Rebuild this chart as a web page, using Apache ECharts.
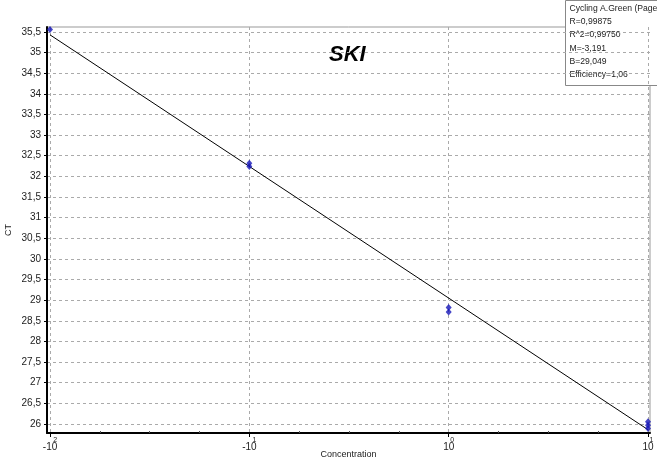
<!DOCTYPE html>
<html><head><meta charset="utf-8">
<script src="https://cdn.jsdelivr.net/npm/echarts@6/dist/echarts.min.js"></script>
<style>html,body{margin:0;padding:0;background:#fff}#c{width:657px;height:460px}</style>
</head><body><div id="c"></div>
<script>
// log10(concentration) and CT values
var samplesX = [-2, -1, -1, 0, 0, 1, 1, 1];
var samplesCT = [35.56, 32.32, 32.24, 28.82, 28.71, 26.05, 25.97, 25.89];
var fitX = [-2, 1];
var fitCT = [35.43, 25.86];
var xTickValues = [-2, -1, 0, 1];
var xTickBase = ['-10', '-10', '10', '10'];
var xTickExp = ['2', '1', '0', '1'];
var xMinorTicks = [-1.75, -1.5, -1.25, -0.75, -0.5, -0.25, 0.25, 0.5, 0.75];
var yTickValues = [26, 26.5, 27, 27.5, 28, 28.5, 29, 29.5, 30, 30.5, 31, 31.5, 32, 32.5, 33, 33.5, 34, 34.5, 35, 35.5];
var infoLines = ['Cycling A.Green (Page 1)', 'R=0,99875', 'R^2=0,99750', 'M=-3,191', 'B=29,049', 'Efficiency=1,06'];
var chartTitle = 'SKI';

var chart = echarts.init(document.getElementById('c'), null, {renderer: 'canvas'});
var font = 'Liberation Sans, Arial, sans-serif';
var infoChildren = [{type: 'rect', shape: {x: 0, y: 0, width: 100, height: 85}, style: {fill: '#fff', stroke: '#888', lineWidth: 1}}];
infoLines.forEach(function (t, i) {
  infoChildren.push({type: 'text', x: 4, y: 3.5 + i * 13.3, style: {text: t, fontSize: 8.6, fontFamily: font, fill: '#222'}});
});
var option = {
  animation: false,
  backgroundColor: '#fff',
  grid: {left: 47, top: 27, right: 7, bottom: 27, show: true, borderColor: '#999', borderWidth: 1,
    containLabel: false, outerBoundsMode: 'none'},
  xAxis: [{
    type: 'value', min: -2.015, max: 1.01,
    name: 'Concentration', nameLocation: 'middle', nameGap: 17, nameMoveOverlap: false,
    nameTextStyle: {fontSize: 9, fontFamily: font, color: '#222', verticalAlign: 'top'},
    axisLine: {show: true, onZero: false, lineStyle: {color: '#000', width: 2}},
    axisTick: {show: true, customValues: xTickValues, length: 4, lineStyle: {color: '#000'}},
    axisLabel: {customValues: xTickValues, margin: 4,
      formatter: function (v) { var i = xTickValues.indexOf(v); return '{b|' + xTickBase[i] + '}{s|' + xTickExp[i] + '}'; },
      rich: {b: {fontSize: 10, fontFamily: font, color: '#222', padding: [5, 0, 0, 0]}, s: {fontSize: 7, fontFamily: font, color: '#222', verticalAlign: 'top', padding: [0, 0, 0, -4]}}},
    splitLine: {show: true, lineStyle: {color: '#aaa', type: [3, 3], width: 1}}
  }, {
    type: 'value', min: -2.015, max: 1.01, position: 'bottom',
    axisLine: {show: false},
    axisTick: {show: true, inside: true, customValues: xMinorTicks, length: 2, lineStyle: {color: '#555'}},
    axisLabel: {show: false}, splitLine: {show: false}
  }],
  yAxis: {
    type: 'value', min: 25.78, max: 35.62,
    name: 'CT', nameLocation: 'middle', nameGap: 34, nameRotate: 90, nameMoveOverlap: false,
    nameTextStyle: {fontSize: 9, fontFamily: font, color: '#222'},
    axisLine: {show: true, onZero: false, lineStyle: {color: '#000', width: 2}},
    axisTick: {show: true, customValues: yTickValues, length: 3, lineStyle: {color: '#000'}},
    axisLabel: {customValues: yTickValues, fontSize: 10, fontFamily: font, color: '#222', margin: 6,
      formatter: function (v) { return String(v).replace('.', ','); }},
    splitLine: {show: true, lineStyle: {color: '#aaa', type: [3, 3], width: 1}}
  },
  series: [{
    type: 'line', xAxisIndex: 0, data: fitX.map(function (x, i) { return [x, fitCT[i]]; }),
    symbol: 'none', lineStyle: {color: '#000', width: 1}, silent: true
  }, {
    type: 'scatter', xAxisIndex: 0, data: samplesX.map(function (x, i) { return [x, samplesCT[i]]; }),
    symbol: 'diamond', symbolSize: [6, 7], itemStyle: {color: '#1515b8'}, z: 5
  }],
  graphic: [
    {type: 'text', left: 329, top: 44, style: {text: chartTitle, fontSize: 22, fontWeight: 'bold', fontStyle: 'italic', fontFamily: font, fill: '#000'}},
    {type: 'group', left: 565, top: 0, children: infoChildren}
  ]
};
chart.setOption(option);
</script></body></html>
